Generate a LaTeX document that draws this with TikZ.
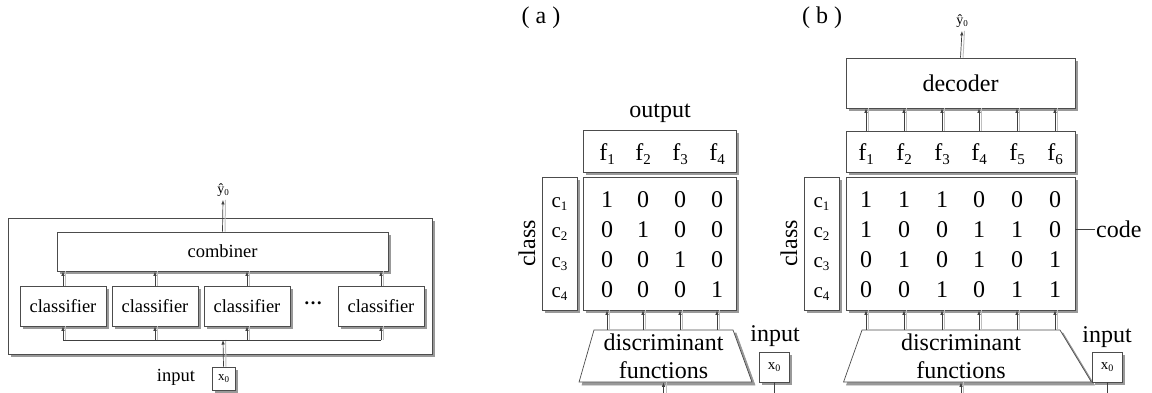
\documentclass[tikz,border=0pt]{standalone}
\usepackage{fontspec}
\setmainfont{Liberation Serif}
\usetikzlibrary{arrows.meta,shapes.geometric,calc}

% lowered, smaller index after a letter
\newcommand\dn[2]{\raisebox{-0.4ex}{\fontsize{#1}{#1}\selectfont #2}}

\begin{document}
\begin{tikzpicture}[x=1pt,y=-1pt,
  line/.style={draw=black!75, line width=0.7pt},
  arr/.style={line, -{Latex[length=4.5pt,width=3.5pt]},
    preaction={draw=black!25, line width=1pt, -, transform canvas={xshift=2.5pt}}},
  box/.style={draw=black!70, line width=0.7pt, fill=white, inner sep=0pt},
  % grey offset copy drawn underneath a box
  shadowbox/.style={draw=black!40, fill=black!40, line width=0.7pt, inner sep=0pt},
  big/.style={font=\fontsize{24}{28}\selectfont},
  mid/.style={font=\fontsize{18.5}{22}\selectfont},
  cfont/.style={font=\fontsize{21}{24}\selectfont},
  small/.style={font=\fontsize{14}{16}\selectfont},
  cell/.style={big, anchor=base, inner sep=0pt},
]
\useasboundingbox (0,0) rectangle (1152,392);
\clip (0,0) rectangle (1152,392);

% ---------------- ensemble of classifiers ----------------
\fill[black!40] (11,221) rectangle (435,357);
\node[box, minimum width=424pt, minimum height=136pt] (sys) at (220,286) {};
\fill[black!40] (60,235) rectangle (391,274);
\node[box, mid, minimum width=331pt, minimum height=39pt] (comb) at (222.5,251.5) {combiner};
\foreach \x/\k in {63/1,155/2,247/3,381/5} {
  \fill[black!40] (\x-40,289) rectangle (\x+46,329);
  \node[box, mid, minimum width=86pt, minimum height=40pt] (cl\k) at (\x,306) {classifier};
}
\node[mid] (dots) at (313,303) {\textbf{…}};
\node[small] (yhat) at (223,190) {ŷ\dn{9}{0}};
\fill[black!40] (215,370) rectangle (238,393);
\node[box, font=\fontsize{13}{15}\selectfont, minimum size=23pt] (x0) at (223.5,378.5) {x\dn{9}{0}};
\node[mid] (inl) at (176,377) {input};
\coordinate (bus) at (223,340);

\draw[arr] (x0.north) -- (bus);
\draw[line] (cl1 |- bus) -- (cl5 |- bus);
\foreach \k in {1,2,3,5} {
  \draw[arr] (cl\k |- bus) -- (cl\k.south);
  \draw[arr] (cl\k.north) -- (cl\k |- comb.south);
}
\draw[arr] (comb.north) -- (yhat.south);

% ---------------- (a) one-per-class coding ----------------
\node[big] (laba) at (541,18) {( a )};
\node[big] (outa) at (660,113) {output};
\fill[black!40] (586,133) rectangle (739,175);
\node[box, minimum width=153pt, minimum height=42pt] (fboxa) at (659.5,151) {};
\fill[black!40] (586,180) rectangle (739,313);
\node[box, minimum width=153pt, minimum height=133pt] (mata) at (659.5,243.5) {};
\fill[black!40] (545,180) rectangle (580,313);
\node[box, minimum width=35pt, minimum height=133pt] (clsa) at (559.5,243.5) {};
\node[big, rotate=90] (classa) at (527,243.5) {class};

\foreach \x [count=\c] in {607,643,680,717}
  \node[cell] (fa\c) at (\x,160) {f\dn{15}{\c}};
\foreach \y [count=\r] in {207,237,267,297}
  \node[cfont, anchor=base, inner sep=0pt] (ca\r) at (559.5,\y) {c\dn{13}{\r}};
\foreach \row [count=\r] in {{1,0,0,0},{0,1,0,0},{0,0,1,0},{0,0,0,1}}
  \foreach \v [count=\c] in \row
    \node[cell] (ma-\r-\c) at (fa\c |- ca\r.base) {\v};

\node[shadowbox, trapezium, trapezium left angle=74, trapezium right angle=70,
  trapezium stretches=true, minimum width=173pt, minimum height=52pt,
  big, align=center] (dfas) at (666.5,359) {\phantom{discriminant}\\\phantom{functions}};
\node[box, trapezium, trapezium left angle=74, trapezium right angle=70,
  trapezium stretches=true, minimum width=173pt, minimum height=52pt,
  big, align=center] (dfa) at (663.5,356) {discriminant\\functions};
\foreach \c in {1,...,4}
  \draw[arr] (fa\c |- dfa.north) -- (fa\c |- mata.south);
\coordinate (ina) at ($(dfa.south)+(0,16)$);
\draw[arr] (ina) -- (dfa.south);

\node[big] (inla) at (775,336) {input};
\fill[black!40] (762,355) rectangle (792,385);
\node[box, font=\fontsize{15}{17}\selectfont, minimum size=30pt] (x0a) at (774,367) {x\dn{10}{0}};
\coordinate (x0ae) at ($(x0a.south)+(0,16)$);
\draw[line] (x0a.south) -- (x0ae);

% ---------------- (b) error-correcting output code ----------------
\node[big] (labb) at (822,18) {( b )};
\node[small] (yhatb) at (962,21) {ŷ\dn{9}{0}};
\fill[black!40] (849,61) rectangle (1078,111);
\node[box, big, minimum width=229pt, minimum height=50pt] (dec) at (960.5,83) {decoder};
\fill[black!40] (849,134) rectangle (1078,175);
\node[box, minimum width=229pt, minimum height=41pt] (fboxb) at (960.5,151.5) {};
\fill[black!40] (849,180) rectangle (1078,313);
\node[box, minimum width=229pt, minimum height=133pt] (matb) at (960.5,243.5) {};
\fill[black!40] (807,180) rectangle (842,313);
\node[box, minimum width=35pt, minimum height=133pt] (clsb) at (821.5,243.5) {};
\node[big, rotate=90] (classb) at (789,243.5) {class};

\foreach \x [count=\c] in {866,904,942,979,1017,1055}
  \node[cell] (fb\c) at (\x,160) {f\dn{15}{\c}};
\foreach \y [count=\r] in {207,237,267,297}
  \node[cfont, anchor=base, inner sep=0pt] (cb\r) at (821.5,\y) {c\dn{13}{\r}};
\foreach \row [count=\r] in {{1,1,1,0,0,0},{1,0,0,1,1,0},{0,1,0,1,0,1},{0,0,1,0,1,1}}
  \foreach \v [count=\c] in \row
    \node[cell] (mb-\r-\c) at (fb\c |- cb\r.base) {\v};

\node[shadowbox, trapezium, trapezium left angle=76, trapezium right angle=67,
  trapezium stretches=true, minimum width=248pt, minimum height=52pt,
  big, align=center] (dfbs) at (964,359) {\phantom{discriminant}\\\phantom{functions}};
\node[box, trapezium, trapezium left angle=76, trapezium right angle=67,
  trapezium stretches=true, minimum width=248pt, minimum height=52pt,
  big, align=center] (dfb) at (961,356) {discriminant\\functions};
\foreach \c in {1,...,6} {
  \draw[arr] (fb\c |- dfb.north) -- (fb\c |- matb.south);
  \draw[arr] (fb\c |- fboxb.north) -- (fb\c |- dec.south);
}
\draw[arr] (dec.north) -- (yhatb.south);
\coordinate (inb) at ($(dfb.south)+(0,16)$);
\draw[arr] (inb) -- (dfb.south);

\coordinate (codetick) at (1095,229);
\draw[line] (matb.east |- codetick) -- (codetick);
\node[big, anchor=west, inner sep=1pt] (code) at (codetick) {code};

\node[big] (inlb) at (1107,337) {input};
\fill[black!40] (1095,355) rectangle (1125,385);
\node[box, font=\fontsize{15}{17}\selectfont, minimum size=30pt] (x0b) at (1107,367) {x\dn{10}{0}};
\coordinate (x0be) at ($(x0b.south)+(0,16)$);
\draw[line] (x0b.south) -- (x0be);
\end{tikzpicture}
\end{document}
